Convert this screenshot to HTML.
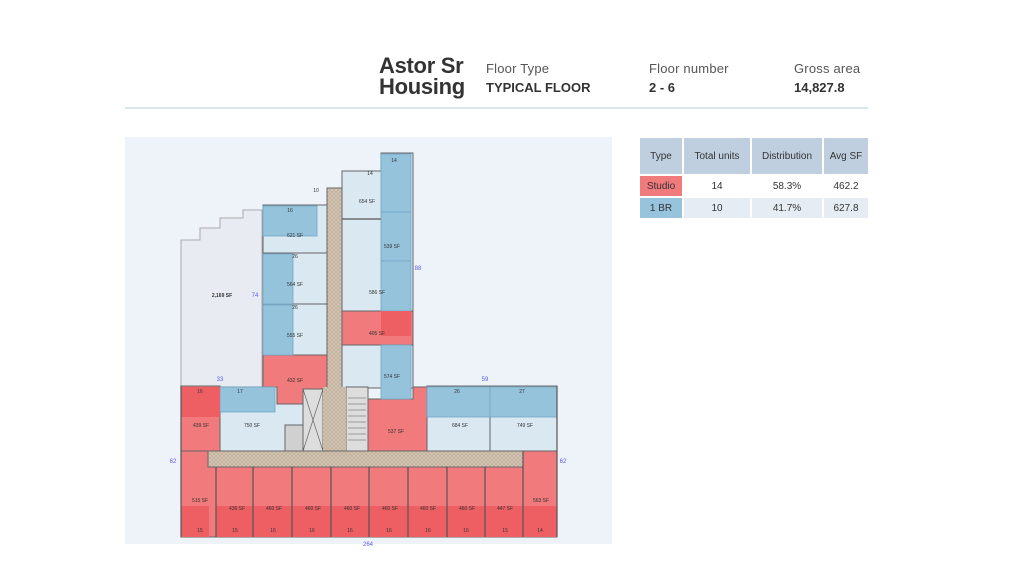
<!DOCTYPE html>
<html><head><meta charset="utf-8"><style>
body{margin:0;width:1024px;height:576px;background:#fff;overflow:hidden;font-family:"Liberation Sans",sans-serif;position:relative}
.a{position:absolute;white-space:nowrap}
table{border-collapse:separate;border-spacing:2px;font-size:10px;color:#333}
</style></head><body>
<div class="a" style="left:379px;top:55px;font-size:22px;font-weight:bold;line-height:21px;color:#333;letter-spacing:-0.3px">Astor Sr<br>Housing</div>
<div class="a" style="left:486px;top:61px;font-size:13px;color:#555;letter-spacing:0.2px">Floor Type</div>
<div class="a" style="left:486px;top:80px;font-size:13px;font-weight:bold;color:#333">TYPICAL FLOOR</div>
<div class="a" style="left:649px;top:61px;font-size:13px;color:#555;letter-spacing:0.2px">Floor number</div>
<div class="a" style="left:649px;top:80px;font-size:13px;font-weight:bold;color:#333">2 - 6</div>
<div class="a" style="left:794px;top:61px;font-size:13px;color:#555;letter-spacing:0.2px">Gross area</div>
<div class="a" style="left:794px;top:80px;font-size:13px;font-weight:bold;color:#333">14,827.8</div>
<div class="a" style="left:125px;top:107px;width:743px;height:2px;background:#d8e6ee"></div>

<table class="a" style="left:638px;top:136px">
<tr style="background:#c0cfdf;height:36px"><td style="width:40px;text-align:center">Type</td><td style="width:64px;text-align:center">Total units</td><td style="width:68px;text-align:center">Distribution</td><td style="width:42px;text-align:center">Avg SF</td></tr>
<tr style="height:20px;text-align:center"><td style="background:#f07a7c">Studio</td><td>14</td><td>58.3%</td><td>462.2</td></tr>
<tr style="height:20px;text-align:center;background:#e6ecf3"><td style="background:#98c3dc">1 BR</td><td>10</td><td>41.7%</td><td>627.8</td></tr>
</table>

<svg class="a" style="left:0;top:0" width="1024" height="576" font-family="Liberation Sans, sans-serif">
<defs><pattern id="h" width="4" height="4" patternUnits="userSpaceOnUse"><rect width="4" height="4" fill="#d4c6b6"/><path d="M0 0L4 4M4 0L0 4" stroke="#b8a690" stroke-width="0.6"/></pattern></defs>
<rect x="125" y="137" width="487" height="407" fill="#edf3f8"/>
<g stroke="#666" stroke-width="1">
<polygon points="181,387 181,240 200,240 200,228 220,228 220,218 243,218 243,210 262,210 262,387" fill="#e8ecf2" stroke="#aaa"/>
<rect x="263" y="205" width="64" height="48" fill="#dae8f1"/>
<rect x="263" y="253" width="64" height="51" fill="#dae8f1"/>
<rect x="263" y="304" width="64" height="51" fill="#dae8f1"/>
<polygon points="263,355 327,355 327,404 277,404 277,388 263,388" fill="#f07a7c"/>
<rect x="327" y="188" width="15" height="265" fill="url(#h)"/>
<polygon points="342,171 381,171 381,153 413,153 413,388 342,388" fill="#dae8f1"/>
<rect x="342" y="311" width="71" height="34" fill="#f07a7c"/>
<rect x="181" y="386" width="39" height="65" fill="#f07a7c"/>
<polygon points="220,387 277,387 277,404 303,404 303,451 220,451" fill="#dae8f1"/>
<rect x="303" y="389" width="20" height="62" fill="#ddd"/>
<rect x="285" y="425" width="18" height="26" fill="#d0d0d0"/>
<rect x="346" y="387" width="22" height="64" fill="#ddd"/>
<polygon points="368,399 413,399 413,387 427,387 427,451 368,451" fill="#f07a7c"/>
<rect x="427" y="386" width="63" height="65" fill="#dae8f1"/>
<rect x="490" y="386" width="67" height="65" fill="#dae8f1"/>
<rect x="323" y="387" width="23" height="66" fill="url(#h)" stroke="none"/>
<rect x="181" y="451" width="376" height="86" fill="#f07a7c"/>
<rect x="208" y="451" width="315" height="16" fill="url(#h)"/>
</g>
<g fill="#96c3dc" stroke="#6fa5c6" stroke-width="0.8">
<rect x="263" y="206" width="54" height="30"/>
<rect x="263" y="254" width="30" height="50"/>
<rect x="263" y="305" width="30" height="50"/>
<rect x="381" y="154" width="30" height="58"/>
<rect x="381" y="212" width="30" height="49"/>
<rect x="381" y="261" width="30" height="50"/>
<rect x="381" y="345" width="30" height="54"/>
<rect x="220" y="387" width="55" height="25"/>
<rect x="427" y="387" width="63" height="30"/>
<rect x="490" y="387" width="67" height="30"/>
</g>
<g fill="#ee5f64">
<rect x="181" y="387" width="39" height="30"/>
<rect x="381" y="311" width="30" height="25"/>
<rect x="181" y="506" width="28" height="31"/>
<rect x="216" y="506" width="341" height="31"/>
</g>
<g stroke="#555" stroke-width="1.2">
<line x1="216" y1="467" x2="216" y2="537"/><line x1="253" y1="467" x2="253" y2="537"/><line x1="292" y1="467" x2="292" y2="537"/><line x1="331" y1="467" x2="331" y2="537"/><line x1="369" y1="467" x2="369" y2="537"/><line x1="408" y1="467" x2="408" y2="537"/><line x1="447" y1="467" x2="447" y2="537"/><line x1="485" y1="467" x2="485" y2="537"/><line x1="523" y1="451" x2="523" y2="537"/>
<line x1="181" y1="386" x2="181" y2="537"/><line x1="557" y1="386" x2="557" y2="537"/>
<line x1="342" y1="219" x2="381" y2="219"/>
<path d="M303 389L323 451M323 389L303 451" stroke-width="0.6"/>
</g>
<g stroke="#999" fill="none">
<path d="M348 398h18M348 404h18M348 410h18M348 416h18M348 422h18M348 428h18M348 434h18M348 440h18"/>
</g>
<g font-size="5" fill="#333" text-anchor="middle">
<text x="222" y="297" font-weight="bold">2,169 SF</text>
<text x="295" y="237">621 SF</text><text x="295" y="286">564 SF</text><text x="295" y="337">555 SF</text><text x="295" y="382">432 SF</text>
<text x="367" y="203">654 SF</text><text x="392" y="248">539 SF</text><text x="377" y="294">586 SF</text><text x="377" y="335">405 SF</text><text x="392" y="378">574 SF</text>
<text x="201" y="427">439 SF</text><text x="252" y="427">750 SF</text><text x="396" y="433">537 SF</text><text x="460" y="427">684 SF</text><text x="525" y="427">749 SF</text>
<text x="200" y="502">515 SF</text><text x="237" y="510">436 SF</text><text x="274" y="510">460 SF</text><text x="313" y="510">460 SF</text><text x="352" y="510">460 SF</text><text x="390" y="510">460 SF</text><text x="428" y="510">460 SF</text><text x="467" y="510">460 SF</text><text x="505" y="510">447 SF</text><text x="541" y="502">563 SF</text>
<text x="200" y="532">15</text><text x="235" y="532">15</text><text x="273" y="532">16</text><text x="312" y="532">16</text><text x="350" y="532">16</text><text x="389" y="532">16</text><text x="428" y="532">16</text><text x="466" y="532">16</text><text x="505" y="532">15</text><text x="540" y="532">14</text>
<text x="200" y="393">16</text><text x="240" y="393">17</text><text x="457" y="393">26</text><text x="522" y="393">27</text><text x="290" y="212">16</text><text x="295" y="258">26</text><text x="295" y="309">26</text><text x="394" y="162">14</text><text x="370" y="175">14</text><text x="316" y="192">10</text>
</g>
<g font-size="6" fill="#5a5af0" text-anchor="middle">
<text x="220" y="381">33</text><text x="485" y="381">59</text><text x="173" y="463">62</text><text x="563" y="463">62</text><text x="255" y="297">74</text><text x="418" y="270">88</text><text x="368" y="546">264</text>
</g>
</svg>
</body></html>
